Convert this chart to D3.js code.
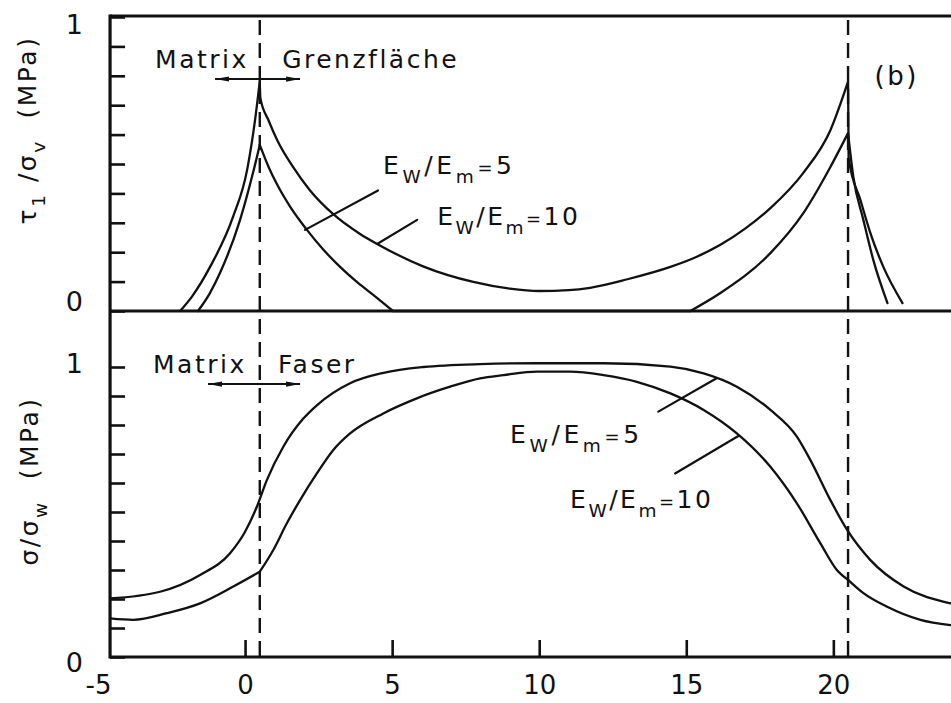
<!DOCTYPE html>
<html>
<head>
<meta charset="utf-8">
<script src="https://cdn.jsdelivr.net/npm/d3@7"></script>
<style>
  html, body { margin: 0; padding: 0; background: #fff; }
  svg { display: block; }
  text { font-family: "DejaVu Sans", sans-serif; fill: #111; white-space: pre; }
</style>
</head>
<body>
<svg id="chart" width="951" height="703"></svg>
<script>
// ---- data -------------------------------------------------------------
// tick values
const xTickValues = [-5, 0, 5, 10, 15, 20];
const yTickValues = [0, 0.1, 0.2, 0.3, 0.4, 0.5, 0.6, 0.7, 0.8, 0.9, 1];
const yLabelValues = [0, 1];
// position of the matrix / fibre interfaces
const interfaces = [0.5, 20.5];

// shear stress tau1/sigma_v, Ew/Em = 10
const tauE10X = [-2.21, -1.8, -1.19, -0.41, 0.07, 0.34, 0.5,
                 0.52, 0.8, 1.09, 1.63, 2.21, 2.99, 3.91, 4.49, 6.05, 7.76, 9.0, 10.0, 11.0, 11.73,
                 13.0, 14.46, 15.3, 16.16, 17.0, 17.86, 18.98, 19.9, 20.5,
                 20.52, 20.92, 21.26, 21.7, 22.35];
const tauE10Y = [0, 0.05, 0.15, 0.32, 0.48, 0.65, 0.78,
                 0.725, 0.648, 0.582, 0.49, 0.41, 0.33, 0.262, 0.228, 0.152, 0.099, 0.076, 0.068, 0.071, 0.079,
                 0.108, 0.15, 0.182, 0.225, 0.28, 0.35, 0.47, 0.615, 0.78,
                 0.52, 0.378, 0.265, 0.15, 0.027];

// shear stress tau1/sigma_v, Ew/Em = 5
const tauE5X = [-1.6, -1.2, -0.85, -0.17, 0.27, 0.5,
                0.8, 1.09, 1.53, 2.11, 2.65, 3.23, 3.81, 4.42, 5.03,
                15.14, 16.16, 17.86, 18.98, 19.9, 20.5,
                20.68, 21.02, 21.36, 21.84];
const tauE5Y = [0, 0.06, 0.13, 0.31, 0.47, 0.565,
                0.49, 0.43, 0.355, 0.275, 0.21, 0.15, 0.098, 0.05, 0,
                0, 0.061, 0.197, 0.333, 0.49, 0.605,
                0.456, 0.31, 0.173, 0.027];

// normal stress sigma/sigma_w, Ew/Em = 5
const sigE5X = [-4.59, -2.89, -1.53, -0.51, 0, 0.4, 0.74, 1.3, 1.98, 2.44, 3.57, 4.71, 6.07, 7.99,
                9.92, 12.19, 14.46, 15.59, 16.72, 17.86, 18.76, 19.22, 19.9, 20.47, 21.26, 22.39, 23.98];
const sigE5Y = [0.202, 0.225, 0.283, 0.358, 0.432, 0.518, 0.61, 0.725, 0.822, 0.868, 0.944, 0.98, 1.0, 1.01,
                1.013, 1.013, 1.001, 0.978, 0.932, 0.852, 0.76, 0.679, 0.541, 0.438, 0.334, 0.243, 0.185];

// normal stress sigma/sigma_w, Ew/Em = 10
const sigE10X = [-4.59, -3.8, -2.66, -1.53, -0.4, 0.5,
                 0.96, 1.42, 1.87, 2.44, 3.0, 3.57, 4.7, 5.84, 6.97, 7.99, 8.79, 9.92, 11.05, 12.19,
                 13.32, 14.46, 15.59, 16.72, 17.86, 18.76, 19.56, 20.12, 20.5,
                 21.0, 21.83, 22.96, 23.98];
const sigE10Y = [0.133, 0.128, 0.151, 0.185, 0.243, 0.294,
                 0.369, 0.461, 0.541, 0.633, 0.714, 0.771, 0.84, 0.892, 0.932, 0.961, 0.972, 0.984, 0.984, 0.972,
                 0.949, 0.909, 0.852, 0.771, 0.656, 0.53, 0.392, 0.3, 0.266,
                 0.222, 0.173, 0.128, 0.11];

// ---- layout -------------------------------------------------------------
const ink = "#111";
const svg = d3.select("#chart");
const x = d3.scaleLinear().domain([-5, 24]).range([98, 951]);
const xStart = -4.59;             // left edge of the frame
const yTau = d3.scaleLinear().domain([0, 1]).range([311, 17]);
const ySig = d3.scaleLinear().domain([0, 1]).range([657, 367]);
const frameTop = 16;
const left = x(xStart), right = 951;

// ---- helpers ------------------------------------------------------------
function branches(xs, ys, isCut) {
  const pts = xs.map((v, i) => ({ x: v, y: ys[i] }));
  const out = [];
  let cur = [];
  pts.forEach((p, i) => {
    cur.push(p);
    if (i > 0 && i < pts.length - 1 && isCut(p)) { out.push(cur); cur = [p]; }
  });
  out.push(cur);
  return out;
}

function drawCurve(xs, ys, yScale, isCut) {
  const line = d3.line().x(d => x(d.x)).y(d => yScale(d.y)).curve(d3.curveMonotoneX);
  svg.append("g").selectAll("path")
    .data(branches(xs, ys, isCut))
    .join("path")
    .attr("d", line)
    .attr("fill", "none")
    .attr("stroke", ink)
    .attr("stroke-width", 2.3)
    .attr("stroke-linejoin", "round")
    .attr("stroke-linecap", "round");
}

// text with subscripts: parts = [[text, kind], ...]
function richText(g, px, py, parts, size, opts = {}) {
  const t = g.append("text").attr("x", px).attr("y", py)
    .attr("font-size", size)
    .attr("letter-spacing", opts.spacing ?? 2.5)
    .attr("text-anchor", opts.anchor || "start");
  let shifted = 0;
  parts.forEach(([s, kind]) => {
    const sp = t.append("tspan").text(s);
    const target = kind === "sub" ? size * 0.36 : 0;
    if (target !== shifted) { sp.attr("dy", target - shifted); shifted = target; }
    if (kind === "sub") sp.attr("font-size", size * 0.74);
    if (kind === "small") sp.attr("font-size", size * 0.72);
  });
  return t;
}

const ratioLabel = v => [["E"], ["W", "sub"], ["/E"], ["m", "sub"], ["=", "small"], [String(v)]];

// ---- curves -------------------------------------------------------------
const tauCut = p => interfaces.includes(p.x) || p.y === 0;
drawCurve(tauE10X, tauE10Y, yTau, tauCut);
drawCurve(tauE5X, tauE5Y, yTau, tauCut);
drawCurve(sigE5X, sigE5Y, ySig, () => false);
drawCurve(sigE10X, sigE10Y, ySig, p => interfaces.includes(p.x));

// ---- interface lines ----------------------------------------------------
svg.append("g").selectAll("line")
  .data(interfaces)
  .join("line")
  .attr("x1", d => x(d)).attr("x2", d => x(d))
  .attr("y1", frameTop + 4).attr("y2", ySig(0))
  .attr("stroke", ink).attr("stroke-width", 2.4)
  .attr("stroke-dasharray", "15,8");

// ---- axes ---------------------------------------------------------------
const axisG = svg.append("g");

// x axis: ticks point up into the plot, labels below
const xAxis = d3.axisBottom(x).tickValues(xTickValues)
  .tickSizeInner(-17).tickSizeOuter(0).tickPadding(19)
  .tickFormat(d => d < 0 ? "-" + Math.abs(d) : String(d));
const gx = axisG.append("g").attr("transform", `translate(0,${ySig(0)})`).call(xAxis);
gx.select(".domain").remove();
gx.selectAll(".tick line").attr("stroke", ink).attr("stroke-width", 2.6)
  .attr("display", d => d <= xStart ? "none" : null);
gx.selectAll(".tick text").attr("font-size", 26).attr("fill", ink)
  .attr("font-family", "DejaVu Sans, sans-serif");

// y axes: ticks point right into the plot, only 0 and 1 labelled
function yAxis(scale, labelDy) {
  const ax = d3.axisLeft(scale).tickValues(yTickValues)
    .tickSizeInner(-15).tickSizeOuter(0).tickPadding(27)
    .tickFormat(d => yLabelValues.includes(d) ? String(d) : "");
  const g = axisG.append("g").attr("transform", `translate(${left},0)`).call(ax);
  g.select(".domain").remove();
  g.selectAll(".tick line").attr("stroke", ink).attr("stroke-width", 2.6);
  g.selectAll(".tick text").attr("font-size", 27).attr("fill", ink)
    .attr("font-family", "DejaVu Sans, sans-serif")
    .attr("dy", d => labelDy(d));
  return g;
}
yAxis(yTau, d => d === 1 ? "0.62em" : "-0.02em");
yAxis(ySig, d => d === 1 ? "0.2em" : "0.55em");

// frame and panel divider
const frame = [
  [left, frameTop, right, frameTop],
  [left, yTau(0), right, yTau(0)],
  [left, ySig(0), right, ySig(0)],
  [left, frameTop - 1.5, left, ySig(0) + 1.5]
];
axisG.append("g").selectAll("line").data(frame).join("line")
  .attr("x1", d => d[0]).attr("y1", d => d[1]).attr("x2", d => d[2]).attr("y2", d => d[3])
  .attr("stroke", ink).attr("stroke-width", 3.2);

// ---- axis titles --------------------------------------------------------
const tTop = svg.append("g").attr("transform", "translate(36,130) rotate(-90)");
richText(tTop, 0, 0, [["τ"], ["1", "sub"], [" /σ"], ["v", "sub"], ["  (MPa)"]], 25,
  { anchor: "middle", spacing: 2.5 });
const tBot = svg.append("g").attr("transform", "translate(38,481) rotate(-90)");
richText(tBot, 0, 0, [["σ/σ"], ["w", "sub"], ["  (MPa)"]], 25,
  { anchor: "middle", spacing: 2.5 });

// ---- annotations ----------------------------------------------------------
const ann = svg.append("g");

// arrowhead marker
svg.append("defs").append("marker")
  .attr("id", "head").attr("viewBox", "0 0 14 6")
  .attr("refX", 14).attr("refY", 3)
  .attr("markerWidth", 14).attr("markerHeight", 6)
  .attr("markerUnits", "userSpaceOnUse")
  .attr("orient", "auto-start-reverse")
  .append("path").attr("d", "M0,0.4 L14,3 L0,5.6 Z").attr("fill", ink);

function doubleArrow(x1, x2, py) {
  ann.append("line")
    .attr("x1", x(x1)).attr("x2", x(x2)).attr("y1", py).attr("y2", py)
    .attr("stroke", ink).attr("stroke-width", 2)
    .attr("marker-start", "url(#head)").attr("marker-end", "url(#head)");
}

function leader(x1, y1, x2, y2, yScale) {
  ann.append("line")
    .attr("x1", x(x1)).attr("y1", yScale(y1)).attr("x2", x(x2)).attr("y2", yScale(y2))
    .attr("stroke", ink).attr("stroke-width", 2.2).attr("stroke-linecap", "round");
}

// upper panel
richText(ann, x(-3.06), yTau(0.827), [["Matrix"]], 25);
richText(ann, x(1.26), yTau(0.827), [["Grenzfläche"]], 25);
doubleArrow(-1.02, 1.87, yTau(0.789));
richText(ann, x(21.4), yTau(0.77), [["(b)"]], 26);
richText(ann, x(4.69), yTau(0.466), ratioLabel(5), 25, { spacing: 3.6 });
richText(ann, x(6.53), yTau(0.293), ratioLabel(10), 25);
leader(4.52, 0.41, 2.04, 0.276, yTau);
leader(5.85, 0.31, 4.49, 0.228, yTau);

// lower panel
richText(ann, x(-3.13), ySig(0.979), [["Matrix"]], 25);
richText(ann, x(1.12), ySig(0.979), [["Faser"]], 25);
doubleArrow(-1.26, 1.87, ySig(0.941));
richText(ann, x(9.01), ySig(0.738), ratioLabel(5), 25, { spacing: 3.6 });
richText(ann, x(11.05), ySig(0.514), ratioLabel(10), 25);
leader(14.05, 0.846, 16.03, 0.961, ySig);
leader(14.62, 0.633, 16.77, 0.762, ySig);
</script>
</body>
</html>
